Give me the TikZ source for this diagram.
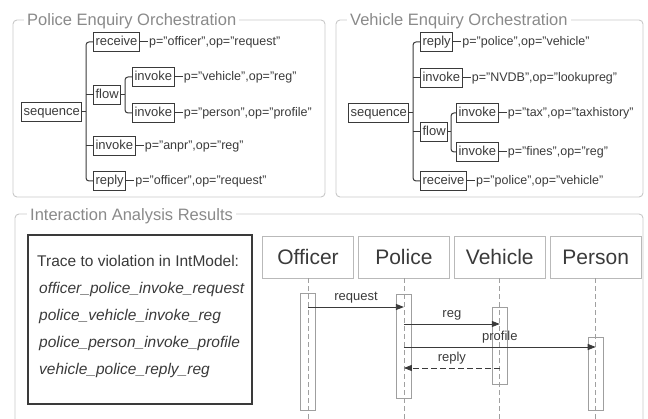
\documentclass[tikz,border=0pt]{standalone}
\usepackage{fontspec}
\setmainfont{Liberation Sans}
\usepackage{xcolor}
\definecolor{ink}{HTML}{3A3A3A}
\definecolor{frame}{HTML}{C8C8C8}
\definecolor{ttl}{HTML}{8A8A8A}
\definecolor{life}{HTML}{A0A0A0}
\usetikzlibrary{arrows.meta, positioning, calc}

\begin{document}
\begin{tikzpicture}[
    x=1pt, y=-1pt,
    node distance=4pt,
    grp/.style={draw=frame, line width=0.9pt, rounded corners=4pt},
    ttlbox/.style={
        fill=white, text=ttl, inner xsep=3pt, inner ysep=1pt,
        anchor=base west, font=\fontsize{16.5}{18}\selectfont
    },
    act/.style={
        draw=ink, line width=1.1pt, inner xsep=2pt, inner ysep=0pt,
        minimum height=19pt, text height=9.5pt, text depth=2.8pt,
        text=ink, anchor=west, font=\fontsize{13}{15}\selectfont
    },
    val/.style={
        text=ink, inner sep=1pt, anchor=west,
        text height=9.5pt, text depth=2.8pt,
        font=\fontsize{12.5}{15}\selectfont
    },
    lnk/.style={draw=ink, line width=1pt},
    hdr/.style={
        draw=gray!55, line width=0.9pt,
        minimum width=91pt, minimum height=42pt,
        text=ink, font=\fontsize{21}{24}\selectfont
    },
    bar/.style={draw=gray!75, line width=0.9pt, minimum width=15pt, inner sep=0pt, anchor=north},
    life/.style={draw=life, line width=0.8pt, dash pattern=on 5pt off 3pt},
    msg/.style={-{Triangle[length=8pt,width=6pt]}, draw=ink, line width=0.8pt},
    lbl/.style={text=ink, inner sep=1pt, font=\fontsize{13}{15}\selectfont},
    trbox/.style={draw=ink, line width=1.4pt}
]
\clip (0,0) rectangle (648,419);

% group frames
\draw[grp] (13,20) rectangle (325,197);
\node[ttlbox] (ttla) at (24,26) {Police Enquiry Orchestration};
\draw[grp] (336,20) rectangle (643,197);
\node[ttlbox] (ttlb) at (347,26) {Vehicle Enquiry Orchestration};
\draw[grp] (15,214) rectangle (643,440);
\node[ttlbox] (ttlc) at (27,221) {Interaction Analysis Results};

% police orchestration
\node[act] (seqa) at (21,112) {sequence};
\node[act] (rcva) at (93,42) {receive};
\node[val, right=8pt of rcva] (rcvav) {p="officer",op="request"};
\node[act] (flwa) at (93,95) {flow};
\node[act] (inva1) at (132,77) {invoke};
\node[val, right=8pt of inva1] (inva1v) {p="vehicle",op="reg"};
\node[act] (inva2) at (132,113) {invoke};
\node[val, right=8pt of inva2] (inva2v) {p="person",op="profile"};
\node[act] (inva3) at (93,146) {invoke};
\node[val, right=8pt of inva3] (inva3v) {p="anpr",op="reg"};
\node[act] (repa) at (93,181) {reply};
\node[val, right=8pt of repa] (repav) {p="officer",op="request"};

\coordinate (ta) at (86,112);
\coordinate (fa) at (125,95);
\draw[lnk] (seqa.east) -- (ta);
\draw[lnk, rounded corners=3pt] (rcva.west) -| (ta) |- (repa.west);
\draw[lnk] (flwa.west) -- (flwa.west -| ta);
\draw[lnk] (inva3.west) -- (inva3.west -| ta);
\draw[lnk] (flwa.east) -- (fa);
\draw[lnk, rounded corners=3pt] (inva1.west) -| (fa) |- (inva2.west);
\foreach \n in {rcva, inva1, inva2, inva3, repa}
    \draw[lnk] (\n.east) -- (\n v.west);

% vehicle orchestration
\node[act] (seqb) at (348,113) {sequence};
\node[act] (repb) at (420,42) {reply};
\node[val, right=8pt of repb] (repbv) {p="police",op="vehicle"};
\node[act] (invb1) at (420,78) {invoke};
\node[val, right=8pt of invb1] (invb1v) {p="NVDB",op="lookupreg"};
\node[act] (flwb) at (420,132) {flow};
\node[act] (invb2) at (456,113) {invoke};
\node[val, right=8pt of invb2] (invb2v) {p="tax",op="taxhistory"};
\node[act] (invb3) at (456,152) {invoke};
\node[val, right=8pt of invb3] (invb3v) {p="fines",op="reg"};
\node[act] (rcvb) at (420,181) {receive};
\node[val, right=8pt of rcvb] (rcvbv) {p="police",op="vehicle"};

\coordinate (tb) at (413,113);
\coordinate (fb) at (451,132);
\draw[lnk] (seqb.east) -- (tb);
\draw[lnk, rounded corners=3pt] (repb.west) -| (tb) |- (rcvb.west);
\draw[lnk] (invb1.west) -- (invb1.west -| tb);
\draw[lnk] (flwb.west) -- (flwb.west -| tb);
\draw[lnk] (flwb.east) -- (fb);
\draw[lnk, rounded corners=3pt] (invb2.west) -| (fb) |- (invb3.west);
\foreach \n in {repb, invb1, invb2, invb3, rcvb}
    \draw[lnk] (\n.east) -- (\n v.west);

% trace
\draw[trbox] (28,235) rectangle (252,404);
\node[text=ink, inner sep=0pt, anchor=north west, align=left,
      font=\fontsize{15.5}{27}\selectfont] (trc) at (37,255)
    {Trace to violation in IntModel:\\
     \hspace*{2pt}\itshape officer\_police\_invoke\_request\\
     \hspace*{2pt}\itshape police\_vehicle\_invoke\_reg\\
     \hspace*{2pt}\itshape police\_person\_invoke\_profile\\
     \hspace*{2pt}\itshape vehicle\_police\_reply\_reg};

% sequence chart
\node[hdr] (ofc) at (308,257) {Officer};
\node[hdr, right=of ofc] (pol) {Police};
\node[hdr, right=of pol] (veh) {Vehicle};
\node[hdr, right=of veh] (per) {Person};

\coordinate (bot) at (0,419);
\foreach \n in {ofc, pol, veh, per}
    \draw[life] (\n.south) -- (\n.south |- bot);

\node[bar, minimum height=117pt] (ofcb) at ($(ofc.south)+(0,15)$) {};
\node[bar, minimum height=104pt] (polb) at ($(pol.south)+(0,16)$) {};
\node[bar, minimum height=77pt]  (vehb) at ($(veh.south)+(0,29)$) {};
\node[bar, minimum height=73pt]  (perb) at ($(per.south)+(0,59)$) {};

\coordinate (mreq) at (0,307);
\coordinate (mreg) at (0,324);
\coordinate (mpro) at (0,347);
\coordinate (mrep) at (0,368);
\draw[msg] (ofcb |- mreq) -- (polb |- mreq)
    node[lbl, midway, above=2pt] {request};
\draw[msg] (polb |- mreg) -- (vehb |- mreg)
    node[lbl, midway, above=2pt] {reg};
\draw[msg] (polb |- mpro) -- (perb |- mpro)
    node[lbl, midway, above=2pt] {profile};
\draw[msg, dash pattern=on 6pt off 3pt] (vehb |- mrep) -- (polb |- mrep)
    node[lbl, midway, above=2pt] {reply};

\end{tikzpicture}
\end{document}
